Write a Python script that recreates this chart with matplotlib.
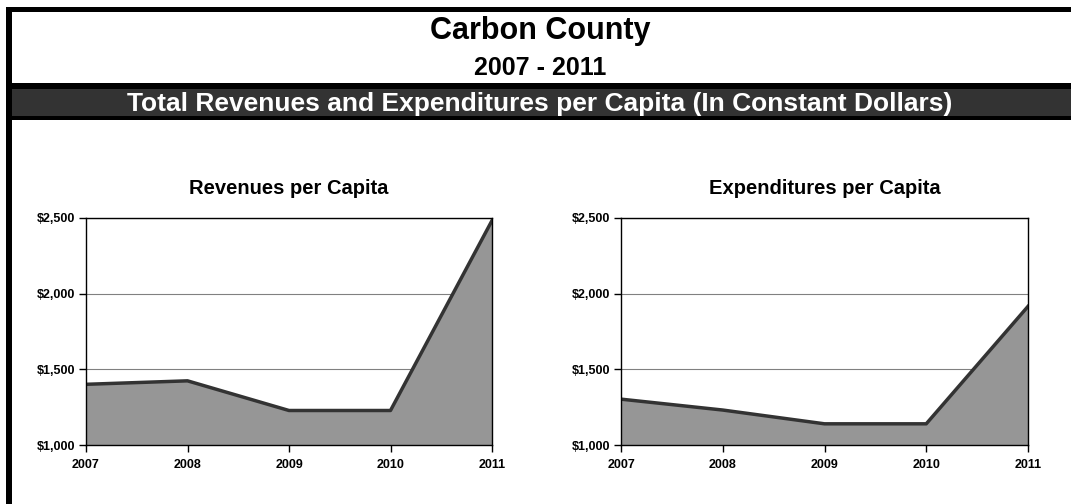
import matplotlib
matplotlib.use("Agg")
import matplotlib.pyplot as plt
from matplotlib.patches import Rectangle
from matplotlib.ticker import FuncFormatter

plt.rcParams['font.family'] = ['Liberation Sans', 'DejaVu Sans']

years = [2007, 2008, 2009, 2010, 2011]
revenues = [1401, 1424, 1228, 1228, 2483]
expenditures = [1303, 1231, 1140, 1140, 1916]

W, H = 1071, 504
fig = plt.figure(figsize=(W / 100, H / 100), dpi=100)


def rect(x0, y0, x1, y1, color):
    # pixel box (top-left origin) -> figure fraction
    fig.add_artist(Rectangle((x0 / W, 1 - y1 / H), (x1 - x0) / W, (y1 - y0) / H,
                             transform=fig.transFigure, facecolor=color,
                             edgecolor='none', zorder=0))


def ftext(x, y, s, **kw):
    fig.text(x / W, 1 - y / H, s, ha='center', va='baseline',
             fontweight='bold', **kw)


# frame and banner
rect(6, 7, W, 12, 'black')
rect(6, 83, W, 89, 'black')
rect(6, 89, W, 116, '#333333')
rect(6, 116, W, 120, 'black')
rect(6, 7, 12, H, 'black')

ftext(540, 39.5, 'Carbon County', fontsize=22)
ftext(540, 75, '2007 - 2011', fontsize=18)
ftext(540, 110.5,
      'Total Revenues and Expenditures per Capita (In Constant Dollars)',
      fontsize=19, color='white')

panels = [
    (86, 492, revenues, 'Revenues per Capita'),
    (621, 1028, expenditures, 'Expenditures per Capita'),
]
top, bottom = 218, 445

for x0, x1, values, title in panels:
    ax = fig.add_axes([x0 / W, 1 - bottom / H, (x1 - x0) / W, (bottom - top) / H])
    ax.fill_between(years, values, 1000, color='#969696', zorder=2)
    ax.plot(years, values, color='#333333', linewidth=2.5, zorder=3)
    ax.set_xlim(2007, 2011)
    ax.set_ylim(1000, 2500)
    ax.set_xticks(years)
    ax.set_yticks([1000, 1500, 2000, 2500])
    ax.yaxis.set_major_formatter(FuncFormatter(lambda v, p: f'${v:,.0f}'))
    ax.grid(axis='y', color='#808080', linewidth=0.8, zorder=1)
    ax.set_axisbelow(True)
    for s in ax.spines.values():
        s.set_linewidth(1.0)
        s.set_color('black')
        s.set_zorder(4)
    ax.tick_params(axis='both', direction='out', length=5, width=1,
                   labelsize=9)
    for lbl in ax.get_xticklabels() + ax.get_yticklabels():
        lbl.set_fontweight('bold')
    ax.tick_params(axis='x', pad=5)
    ax.tick_params(axis='y', pad=3)
    fig.text((x0 + x1) / 2 / W, 1 - 194 / H, title, ha='center',
             va='baseline', fontsize=14.5, fontweight='bold')

fig.savefig('out.png', dpi=100)
